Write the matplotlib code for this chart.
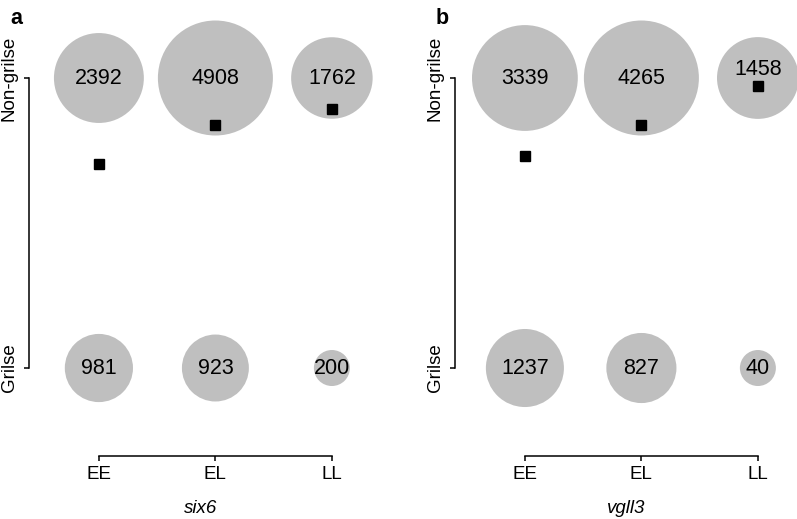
import numpy as np
import matplotlib.pyplot as plt

plt.rcParams['font.family'] = ['Liberation Sans', 'DejaVu Sans']

genotypes = ['EE', 'EL', 'LL']
y_labels = ['Grilse', 'Non-grilse']

# counts per genotype
six6_nongrilse = [2392, 4908, 1762]
six6_grilse = [981, 923, 200]
vgll3_nongrilse = [3339, 4265, 1458]
vgll3_grilse = [1237, 827, 40]

# proportion non-grilse (black squares)
six6_prop = [0.702, 0.838, 0.894]
vgll3_prop = [0.731, 0.838, 0.972]

W, H = 797, 519
fig = plt.figure(figsize=(W / 100, H / 100), dpi=100)


def size_scale(counts, dmin=36, dmax=115):
    # ggplot-like area scale: diameter (px) ~ sqrt of rescaled count
    c = np.asarray(counts, dtype=float)
    frac = (c - c.min()) / (c.max() - c.min())
    d_px = dmin + (dmax - dmin) * np.sqrt(frac)
    return (d_px * 0.72) ** 2


def panel(left_px, gene, nongrilse, grilse, prop, letter, nudge):
    top_px, bottom_px, width_px = 20, 456, 342.5
    ax = fig.add_axes([left_px / W, 1 - bottom_px / H, width_px / W,
                       (bottom_px - top_px) / H])
    x = np.arange(1, len(genotypes) + 1)
    counts = np.array(grilse + nongrilse)
    xs = np.concatenate([x, x])
    ys = np.concatenate([np.zeros(len(x)), np.ones(len(x))])
    ax.scatter(xs, ys, s=size_scale(counts), color='#bfbfbf',
               linewidths=0, clip_on=False, zorder=1)
    for xi, yi, c in zip(xs, ys, counts):
        dy = nudge.get(int(c), 0)
        ax.annotate(str(c), (xi, yi), xytext=(0, dy), textcoords='offset points',
                    ha='center', va='center', fontsize=15.5, zorder=3)
    ax.plot(x, prop, 's', color='black', markersize=7.2, zorder=2,
            clip_on=False)

    ax.set_xlim(0.4, 3.34)
    ax.set_ylim(-0.3034, 1.2)
    for s in ['top', 'right']:
        ax.spines[s].set_visible(False)
    ax.spines['left'].set_bounds(0, 1)
    ax.spines['bottom'].set_bounds(1, 3)
    for s in ['left', 'bottom']:
        ax.spines[s].set_linewidth(1.1)
    ax.set_xticks(x)
    ax.set_xticklabels(genotypes)
    ax.set_yticks([0, 1])
    ax.set_yticklabels(y_labels, rotation=90, va='center')
    ax.tick_params(direction='out', length=3.6, width=1.1, labelsize=13.5)
    ax.tick_params(axis='y', pad=4.5)
    ax.tick_params(axis='x', pad=3.6)
    ax.set_xlabel(gene, fontstyle='italic', fontsize=13.5, labelpad=12)
    ax.patch.set_visible(False)
    fig.text((left_px - 19) / W, 1 - 24 / H, letter, fontsize=15.5,
             fontweight='bold', ha='left', va='baseline')
    return ax


panel(29, 'six6', six6_nongrilse, six6_grilse, six6_prop, 'a', {})
panel(455, 'vgll3', vgll3_nongrilse, vgll3_grilse, vgll3_prop, 'b', {1458: 6})

fig.savefig('out.png', dpi=100)
